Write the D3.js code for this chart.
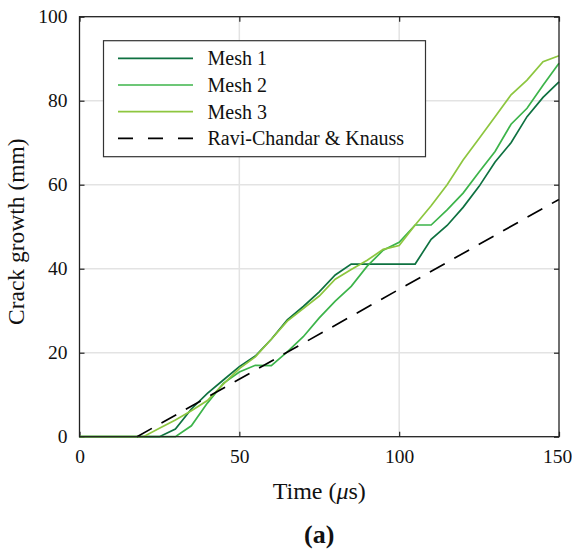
<!DOCTYPE html>
<html>
<head>
<meta charset="utf-8">
<script src="https://cdn.jsdelivr.net/npm/d3@7"></script>
<style>
    body { margin: 0; background: #fff; }
</style>
</head>
<body>
<div id="chart"></div>
<script>
// time steps (microseconds)
const time = [0, 5, 10, 15, 20, 25, 30, 35, 40, 45, 50, 55, 60, 65, 70, 75,
    80, 85, 90, 95, 100, 105, 110, 115, 120, 125, 130, 135, 140, 145, 150];

// crack growth (mm) per mesh
const mesh1 = [0, 0, 0, 0, 0, 0, 1.8, 6.6, 10.3, 13.5, 16.7, 19.2, 23.2, 27.8, 31, 34.5,
    38.5, 41.1, 41.1, 41.1, 41.1, 41.1, 47, 50.3, 54.6, 59.6, 65.4, 70, 76.2, 80.8, 84.5];
const mesh2 = [0, 0, 0, 0, 0, 0, 0, 2.6, 8, 12.7, 15.4, 17, 16.9, 20.2, 23.8, 28.3,
    32.3, 35.8, 40.6, 44.4, 46.3, 50.4, 50.4, 54, 58, 63, 67.9, 74.4, 78.2, 83.7, 88.9];
const mesh3 = [0, 0, 0, 0, 0, 2, 4, 6.2, 8.6, 12.5, 16.2, 19, 23.2, 27.5, 30.5, 33.5,
    37.5, 39.8, 42, 44.6, 45.5, 50.4, 55, 60, 65.9, 71, 76.2, 81.4, 84.9, 89.3, 90.7];

// experimental reference
const raviTime = [18, 150];
const raviGrowth = [0, 56.5];

const xTicks = [0, 50, 100, 150];
const yTicks = [0, 20, 40, 60, 80, 100];

const seriesNames = ['Mesh 1', 'Mesh 2', 'Mesh 3', 'Ravi-Chandar & Knauss'];

const serif = '"Liberation Serif", "DejaVu Serif", serif';

const width = 572;
const height = 549;
const margin = {top: 16.7, right: 13, bottom: 112.3, left: 79.5};
const w = width - margin.left - margin.right;
const h = height - margin.top - margin.bottom;

const series = [
    {name: seriesNames[0], x: time, y: mesh1, color: '#0e7140', dash: null},
    {name: seriesNames[1], x: time, y: mesh2, color: '#3cb44a', dash: null},
    {name: seriesNames[2], x: time, y: mesh3, color: '#8dc63f', dash: null},
    {name: seriesNames[3], x: raviTime, y: raviGrowth, color: '#000', dash: '17,11'}
];

const svg = d3.select('#chart')
    .append('svg')
    .attr('width', width)
    .attr('height', height)
    .style('font-family', serif);

const plot = svg.append('g')
    .attr('transform', `translate(${margin.left},${margin.top})`);

const xScale = d3.scaleLinear().domain([0, 150]).range([0, w]);
const yScale = d3.scaleLinear().domain([0, 100]).range([h, 0]);

// grid
plot.append('g')
    .selectAll('line')
    .data(xTicks.slice(1, -1))
    .join('line')
    .attr('x1', d => xScale(d)).attr('x2', d => xScale(d))
    .attr('y1', 0).attr('y2', h)
    .attr('stroke', '#e3e3e3').attr('stroke-width', 1.5);

plot.append('g')
    .selectAll('line')
    .data(yTicks.slice(1, -1))
    .join('line')
    .attr('x1', 0).attr('x2', w)
    .attr('y1', d => yScale(d)).attr('y2', d => yScale(d))
    .attr('stroke', '#e3e3e3').attr('stroke-width', 1.5);

// axes, ticks pointing inward on all four sides
const axisStyle = g => {
    g.attr('font-family', null);
    g.select('.domain').remove();
    g.selectAll('.tick line').attr('stroke', '#222').attr('stroke-width', 1.2);
    g.selectAll('.tick text').style('font-size', '19.5px').attr('fill', '#111');
};

const xAxisG = plot.append('g')
    .attr('transform', `translate(0,${h})`)
    .call(d3.axisBottom(xScale).tickValues(xTicks).tickSizeInner(-5).tickSizeOuter(0).tickPadding(12))
    .call(axisStyle);

// last label sits right at the page edge, nudge it in a little
xAxisG.selectAll('.tick text')
    .filter(d => d === 150)
    .attr('dx', -2);

plot.append('g')
    .call(d3.axisLeft(yScale).tickValues(yTicks).tickSizeInner(-5).tickSizeOuter(0).tickPadding(12))
    .call(axisStyle);

plot.append('g')
    .call(d3.axisTop(xScale).tickValues(xTicks).tickSizeInner(-5).tickSizeOuter(0).tickFormat(''))
    .call(axisStyle);

plot.append('g')
    .attr('transform', `translate(${w},0)`)
    .call(d3.axisRight(yScale).tickValues(yTicks).tickSizeInner(-5).tickSizeOuter(0).tickFormat(''))
    .call(axisStyle);

// lines
const line = d3.line()
    .x(d => xScale(d[0]))
    .y(d => yScale(d[1]));

plot.append('g')
    .selectAll('path')
    .data(series)
    .join('path')
    .attr('d', s => line(s.x.map((t, i) => [t, s.y[i]])))
    .attr('fill', 'none')
    .attr('stroke', s => s.color)
    .attr('stroke-width', 1.7)
    .attr('stroke-dasharray', s => s.dash);

// frame
plot.append('rect')
    .attr('width', w).attr('height', h)
    .attr('fill', 'none')
    .attr('stroke', '#222').attr('stroke-width', 1.3);

// legend
const legend = svg.append('g').attr('transform', 'translate(103.5,40.7)');

legend.append('rect')
    .attr('width', 322).attr('height', 116)
    .attr('fill', '#fff')
    .attr('stroke', '#333').attr('stroke-width', 1.2);

const rows = legend.selectAll('g.row')
    .data(series)
    .join('g')
    .attr('class', 'row')
    .attr('transform', (d, i) => `translate(0,${17.6 + i * 26.7})`);

rows.append('line')
    .attr('x1', 14.5).attr('x2', 89.5)
    .attr('stroke', d => d.color)
    .attr('stroke-width', 1.7)
    .attr('stroke-dasharray', d => d.dash ? '15,15' : null);

rows.append('text')
    .attr('x', 104)
    .attr('dy', '0.35em')
    .attr('fill', '#111')
    .style('font-size', '20px')
    .text(d => d.name);

// axis labels
const xLabel = svg.append('text')
    .attr('x', margin.left + w / 2)
    .attr('y', 499)
    .attr('text-anchor', 'middle')
    .attr('fill', '#111')
    .style('font-size', '24px');
xLabel.append('tspan').text('Time (');
xLabel.append('tspan').style('font-style', 'italic').text('μ');
xLabel.append('tspan').text('s)');

svg.append('text')
    .attr('transform', `translate(24,${margin.top + h / 2 + 5}) rotate(-90)`)
    .attr('text-anchor', 'middle')
    .attr('fill', '#111')
    .style('font-size', '23.5px')
    .text('Crack growth (mm)');

svg.append('text')
    .attr('x', margin.left + w / 2)
    .attr('y', 543)
    .attr('text-anchor', 'middle')
    .attr('fill', '#111')
    .style('font-size', '26px')
    .style('font-weight', 'bold')
    .text('(a)');

// make sure every label uses the serif face
svg.selectAll('text').style('font-family', serif);
</script>
</body>
</html>
